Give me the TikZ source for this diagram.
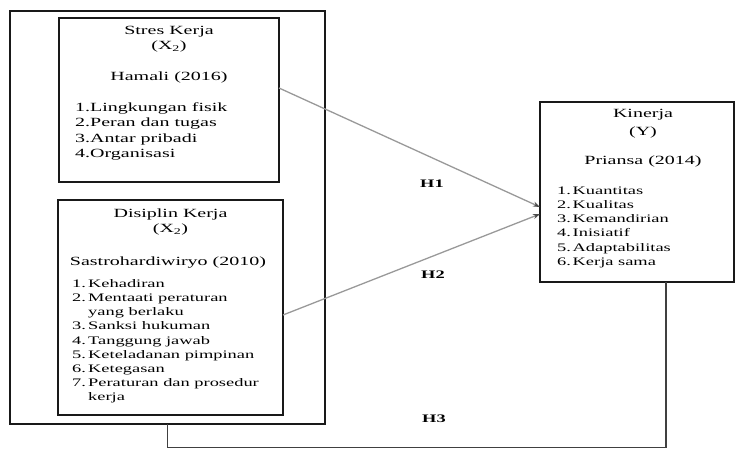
\documentclass[tikz,border=0pt]{standalone}
\usepackage{fontspec}
\setmainfont{Liberation Serif}
\newfontfamily\dfont{Liberation Serif}[FakeStretch=1.6]
\usetikzlibrary{arrows.meta}
\newcommand{\itm}[2]{\makebox[#1][l]{#2}}
\begin{document}
\begin{tikzpicture}[x=1pt,y=-1pt,
 box/.style={draw=black!90, line width=1.9pt, inner sep=0pt, outer sep=0pt},
 hd/.style={font=\dfont\fontsize{12.5}{15}\selectfont, inner sep=0pt, anchor=mid},
 lsA/.style={font=\dfont\fontsize{12.5}{15}\selectfont, inner sep=0pt, anchor=mid west},
 lsB/.style={font=\dfont\fontsize{11.5}{14}\selectfont, inner sep=0pt, anchor=mid west},
 hl/.style={font=\dfont\bfseries\fontsize{11.5}{13}\selectfont, inner sep=0pt, anchor=mid},
 arr/.style={draw=black!40, line width=1.3pt, -{Stealth[length=7pt,width=5pt,color=black!70,fill=black!70]}},
 conn/.style={draw=black!75, line width=1.1pt}]
\useasboundingbox (0,0) rectangle (736,450);
% boxes
\node[box, minimum width=315pt, minimum height=413pt] (outer) at (167.5,217.5) {};
\node[box, minimum width=220pt, minimum height=164pt] (stres) at (169,100) {};
\node[box, minimum width=225pt, minimum height=215pt] (dis) at (170.5,307.5) {};
\node[box, minimum width=194pt, minimum height=180pt] (kin) at (637,192) {};
% Stres Kerja text
\node[hd] (st1) at (169,32) {Stres Kerja};
\node[hd] (st2) at (169,47) {(X\textsubscript{2})};
\node[hd] (st3) at (169,78) {Hamali (2016)};
\foreach \t [count=\i] in {1.Lingkungan fisik,2.Peran dan tugas,3.Antar pribadi,4.Organisasi}
  \node[lsA] (sl\i) at (75,{109+15.5*(\i-1)}) {\t};
% Disiplin Kerja text
\node[hd] (dt1) at (170.5,215) {Disiplin Kerja};
\node[hd] (dt2) at (170.5,230) {(X\textsubscript{2})};
\node[hd] (dt3) at (168,263) {Sastrohardiwiryo (2010)};
\foreach \n/\t [count=\i] in {1./Kehadiran,2./Mentaati peraturan,/yang berlaku,3./Sanksi hukuman,4./Tanggung jawab,5./Keteladanan pimpinan,6./Ketegasan,7./Peraturan dan prosedur,/kerja}
  \node[lsB] (dl\i) at (72,{285+14.2*(\i-1)}) {\itm{16pt}{\n}\t};
% Kinerja text
\node[hd] (kt1) at (643,115) {Kinerja};
\node[hd] (kt2) at (643,133) {(Y)};
\node[hd] (kt3) at (643,162) {Priansa (2014)};
\foreach \n/\t [count=\i] in {1./Kuantitas,2./Kualitas,3./Kemandirian,4./Inisiatif,5./Adaptabilitas,6./Kerja sama}
  \node[lsB] (kl\i) at (557,{192+14.2*(\i-1)}) {\itm{15.5pt}{\n}\t};
% hypothesis labels
\node[hl] (h1) at (432,185) {H1};
\node[hl] (h2) at (433,276) {H2};
\node[hl] (h3) at (434,420) {H3};
% connectors
\coordinate (a1) at (0,88);
\coordinate (a2) at (0,207);
\coordinate (a3) at (0,315);
\coordinate (a4) at (0,214);
\coordinate (b3) at (666,447.5);
\draw[arr] (stres.east |- a1) -- (kin.west |- a2);
\draw[arr] (dis.east |- a3) -- (kin.west |- a4);
\draw[conn] (outer.south) |- (b3) -- (b3 |- kin.south);
\end{tikzpicture}
\end{document}
